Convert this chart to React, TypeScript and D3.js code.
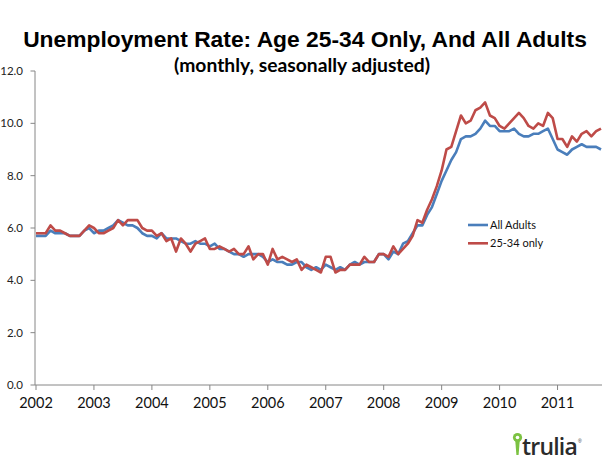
import React from "react";
import * as d3 from "d3";

const years = ["2002", "2003", "2004", "2005", "2006", "2007", "2008", "2009", "2010", "2011"];
const yTicks = [0, 2, 4, 6, 8, 10, 12];

// Monthly values, Jan 2002 – Oct 2011
const allAdults = [
  5.7, 5.7, 5.7, 5.9, 5.8, 5.8, 5.8, 5.7, 5.7, 5.7, 5.9, 6.0,
  5.8, 5.9, 5.9, 6.0, 6.1, 6.3, 6.2, 6.1, 6.1, 6.0, 5.8, 5.7,
  5.7, 5.6, 5.8, 5.6, 5.6, 5.6, 5.5, 5.4, 5.4, 5.5, 5.4, 5.4,
  5.3, 5.4, 5.2, 5.2, 5.1, 5.0, 5.0, 4.9, 5.0, 5.0, 5.0, 4.9,
  4.7, 4.8, 4.7, 4.7, 4.6, 4.6, 4.7, 4.7, 4.5, 4.4, 4.5, 4.4,
  4.6, 4.5, 4.4, 4.5, 4.4, 4.6, 4.7, 4.6, 4.7, 4.7, 4.7, 5.0,
  5.0, 4.8, 5.1, 5.0, 5.4, 5.5, 5.8, 6.1, 6.1, 6.5, 6.8, 7.3,
  7.8, 8.2, 8.6, 8.9, 9.4, 9.5, 9.5, 9.6, 9.8, 10.1, 9.9, 9.9,
  9.7, 9.7, 9.7, 9.8, 9.6, 9.5, 9.5, 9.6, 9.6, 9.7, 9.8, 9.4,
  9.0, 8.9, 8.8, 9.0, 9.1, 9.2, 9.1, 9.1, 9.1, 9.0,
];

const age2534 = [
  5.8, 5.8, 5.8, 6.1, 5.9, 5.9, 5.8, 5.7, 5.7, 5.7, 5.9, 6.1,
  6.0, 5.8, 5.8, 5.9, 6.0, 6.3, 6.1, 6.3, 6.3, 6.3, 6.0, 5.9,
  5.9, 5.7, 5.8, 5.5, 5.6, 5.1, 5.6, 5.4, 5.1, 5.4, 5.5, 5.6,
  5.2, 5.2, 5.3, 5.2, 5.1, 5.2, 5.0, 5.0, 5.3, 4.8, 5.0, 5.0,
  4.6, 5.2, 4.8, 4.9, 4.8, 4.7, 4.8, 4.4, 4.6, 4.5, 4.4, 4.3,
  4.9, 4.9, 4.3, 4.4, 4.4, 4.6, 4.6, 4.6, 4.9, 4.7, 4.7, 5.0,
  5.0, 4.9, 5.3, 5.0, 5.2, 5.4, 5.7, 6.3, 6.2, 6.7, 7.1, 7.6,
  8.2, 9.0, 9.1, 9.7, 10.3, 10.0, 10.1, 10.5, 10.6, 10.8, 10.3, 10.2,
  9.9, 9.8, 10.0, 10.2, 10.4, 10.2, 9.9, 9.8, 10.0, 9.9, 10.4, 10.2,
  9.4, 9.4, 9.1, 9.5, 9.3, 9.6, 9.7, 9.5, 9.7, 9.8,
];

const seriesNames = ["All Adults", "25-34 only"];
const colors = ["#4a7ebb", "#be4b48"];

export default function App() {
  const W = 610;
  const H = 472;
  const x = d3.scaleLinear().domain([0, allAdults.length - 1]).range([36, 601]);
  const y = d3.scaleLinear().domain([0, 12]).range([385, 71]);
  const line = d3
    .line<number>()
    .x((_, i) => x(i))
    .y((d) => y(d));

  const axisColor = "#868686";
  const labelFont = "Lato, 'Open Sans', sans-serif";

  return (
    <svg
      width={W}
      height={H}
      style={{ position: "absolute", left: 0, top: 0, background: "#fff" }}
    >
      <rect width={W} height={H} fill="#fff" />
      <text
        x={305}
        y={47}
        textAnchor="middle"
        fontFamily="'Liberation Sans', Arial, sans-serif"
        fontWeight="bold"
        fontSize={22.8}
        fill="#000"
      >
        Unemployment Rate: Age 25-34 Only, And All Adults
      </text>
      <text
        x={302}
        y={71.5}
        textAnchor="middle"
        fontFamily={labelFont}
        fontWeight="bold"
        fontSize={19.3}
        fill="#000"
      >
        (monthly, seasonally adjusted)
      </text>

      {/* Y axis */}
      <line x1={35} x2={35} y1={y(12)} y2={y(0)} stroke={axisColor} strokeWidth={1} />
      {yTicks.map((t) => (
        <g key={t}>
          <line x1={30.5} x2={35} y1={y(t)} y2={y(t)} stroke={axisColor} strokeWidth={1} />
          <text
            x={23}
            y={y(t)}
            dy="0.35em"
            textAnchor="end"
            fontFamily={labelFont}
            fontSize={11.5}
            fill="#222"
          >
            {t.toFixed(1)}
          </text>
        </g>
      ))}

      {/* X axis */}
      <line x1={35} x2={602} y1={y(0)} y2={y(0)} stroke={axisColor} strokeWidth={1} />
      {years.map((yr, k) => (
        <g key={yr}>
          <line
            x1={x(k * 12)}
            x2={x(k * 12)}
            y1={y(0)}
            y2={y(0) + 5}
            stroke={axisColor}
            strokeWidth={1}
          />
          <text
            x={x(k * 12)}
            y={408}
            textAnchor="middle"
            fontFamily={labelFont}
            fontSize={14.5}
            fill="#111"
          >
            {yr}
          </text>
        </g>
      ))}

      {/* Lines */}
      {[allAdults, age2534].map((s, k) => (
        <path
          key={k}
          d={line(s) || ""}
          fill="none"
          stroke={colors[k]}
          strokeWidth={2.6}
          strokeLinejoin="round"
        />
      ))}

      {/* Legend */}
      {seriesNames.map((n, k) => (
        <g key={n}>
          <line
            x1={468}
            x2={488}
            y1={225 + k * 18.3}
            y2={225 + k * 18.3}
            stroke={colors[k]}
            strokeWidth={2.6}
          />
          <text
            x={490}
            y={225 + k * 18.3}
            dy="0.35em"
            fontFamily={labelFont}
            fontSize={11}
            fill="#111"
          >
            {n}
          </text>
        </g>
      ))}

      {/* trulia logo */}
      <g>
        <circle cx={517.5} cy={437.5} r={4.6} fill="#7cc242" />
        <circle cx={517.5} cy={437.5} r={1.8} fill="#fff" />
        <path d="M515.3,441 L519.7,441 L518.6,455 L516.4,455 Z" fill="#7cc242" />
        <text
          x={522}
          y={455}
          fontFamily="'Open Sans', 'Liberation Sans', sans-serif"
          fontWeight={600}
          fontSize={23}
          fill="#2b2b2b"
          letterSpacing={-0.8}
        >
          trulia
        </text>
        <text x={578} y={443} fontFamily="'Liberation Sans', Arial, sans-serif" fontSize={5} fill="#333">
          ®
        </text>
      </g>
    </svg>
  );
}
